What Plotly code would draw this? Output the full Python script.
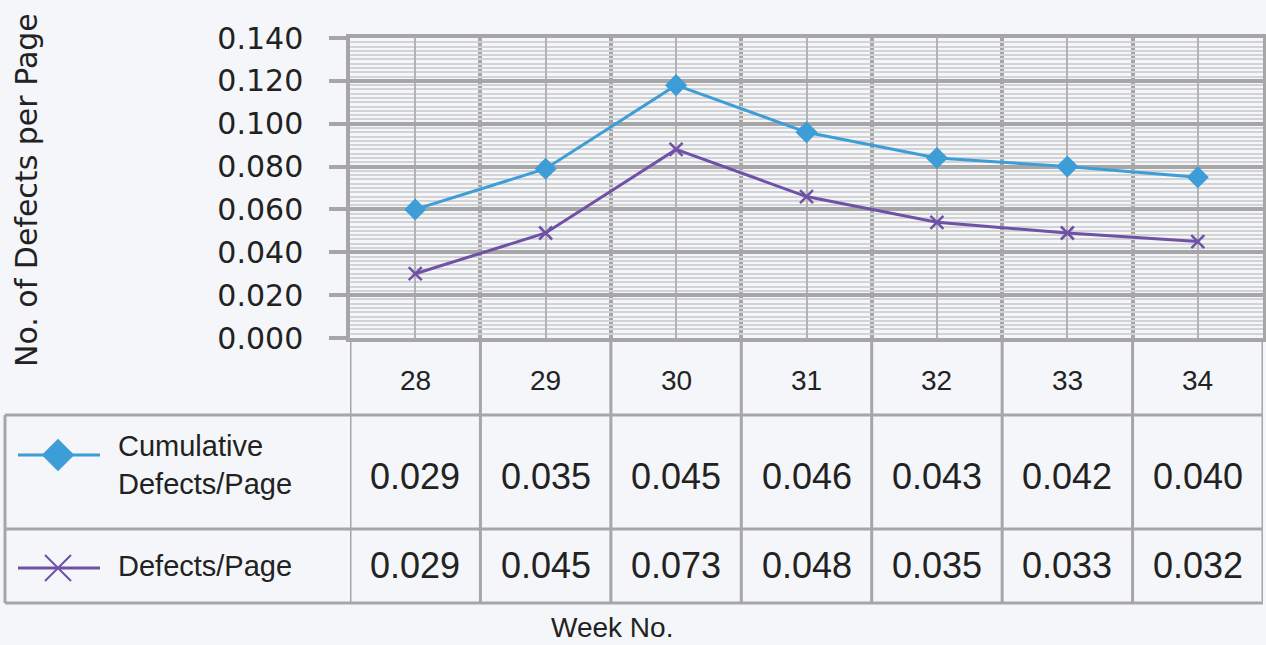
import plotly.graph_objects as go

# ---- data -------------------------------------------------------------
weeks = ["28", "29", "30", "31", "32", "33", "34"]

# plotted series
cumulative_plot = [0.060, 0.079, 0.118, 0.096, 0.084, 0.080, 0.075]
defects_plot = [0.030, 0.049, 0.088, 0.066, 0.054, 0.049, 0.045]

# figures printed in the data table under the chart
cumulative_table = [0.029, 0.035, 0.045, 0.046, 0.043, 0.042, 0.040]
defects_table = [0.029, 0.045, 0.073, 0.048, 0.035, 0.033, 0.032]

series_names = ["Cumulative<br>Defects/Page", "Defects/Page"]
y_ticks = [0.0, 0.02, 0.04, 0.06, 0.08, 0.10, 0.12, 0.14]

# ---- styling ------------------------------------------------------------
W, H = 1266, 645
BG = "#f4f6f9"
GRID = "#a6a6a6"
MINOR = "#d2d3d5"
BLUE = "#3d9dd6"
PURPLE = "#6f51a6"
TEXT = "#222222"
ARIAL = "Liberation Sans, Arial, sans-serif"
WIDE = "DejaVu Sans, sans-serif"


def px(x):
    return x / W


def py(y):
    return 1 - y / H


# plot area in pixels
PL, PR, PT, PB = 350, 1263, 38, 338
# table rows in pixels
ROW1_TOP, ROW2_TOP, TABLE_BOTTOM, TABLE_LEFT = 415, 529, 603, 5

xs = list(range(len(weeks)))

fig = go.Figure()

fig.add_trace(go.Scatter(
    x=xs, y=cumulative_plot, mode="lines+markers",
    line=dict(color=BLUE, width=3),
    marker=dict(symbol="diamond", size=17, color=BLUE, opacity=1),
    showlegend=False, cliponaxis=False,
))
fig.add_trace(go.Scatter(
    x=xs, y=defects_plot, mode="lines+markers",
    line=dict(color=PURPLE, width=3),
    marker=dict(symbol="x-thin", size=13, opacity=1,
                line=dict(color=PURPLE, width=2.5)),
    showlegend=False, cliponaxis=False,
))

# legend keys inside the table's first column (pixel-space overlay axes)
legend_rows = [
    (BLUE, "diamond", 25, (ROW1_TOP + ROW2_TOP) / 2 - 17),
    (PURPLE, "x-thin", 26, (ROW2_TOP + TABLE_BOTTOM) / 2 + 2),
]
for color, sym, size, yrow in legend_rows:
    fig.add_trace(go.Scatter(
        x=[18, 100], y=[yrow, yrow], mode="lines",
        xaxis="x2", yaxis="y2",
        line=dict(color=color, width=3),
        showlegend=False, cliponaxis=False, hoverinfo="skip",
    ))
    fig.add_trace(go.Scatter(
        x=[58], y=[yrow], mode="markers",
        xaxis="x2", yaxis="y2",
        marker=dict(symbol=sym, size=size, color=color, opacity=1,
                    line=dict(color=color, width=2 if sym == "x-thin" else 0)),
        showlegend=False, cliponaxis=False, hoverinfo="skip",
    ))

shapes = []
n = len(weeks)
# vertical table rules continuing the category boundaries
for i in range(n + 1):
    shapes.append(dict(type="line", xref="x", yref="paper",
                       x0=i - 0.5, x1=i - 0.5, y0=py(PB), y1=py(TABLE_BOTTOM),
                       line=dict(color=GRID, width=3), layer="above"))
# left border of the series-name column
shapes.append(dict(type="line", xref="paper", yref="paper",
                   x0=px(TABLE_LEFT), x1=px(TABLE_LEFT),
                   y0=py(ROW1_TOP), y1=py(TABLE_BOTTOM),
                   line=dict(color=GRID, width=3)))
# horizontal table rules
for yy in (ROW1_TOP, ROW2_TOP, TABLE_BOTTOM):
    shapes.append(dict(type="line", xref="paper", yref="paper",
                       x0=px(TABLE_LEFT), x1=px(PR),
                       y0=py(yy), y1=py(yy),
                       line=dict(color=GRID, width=3)))

annotations = []
# week labels in header row
for i, w in enumerate(weeks):
    annotations.append(dict(x=i, y=py(380), xref="x", yref="paper", text=w,
                            showarrow=False, xanchor="center", yanchor="middle",
                            font=dict(family=ARIAL, size=28, color=TEXT)))
# table values
for vals, yc in ((cumulative_table, 476), (defects_table, 565)):
    for i, v in enumerate(vals):
        annotations.append(dict(x=i, y=py(yc), xref="x", yref="paper",
                                text=f"{v:.3f}", showarrow=False,
                                xanchor="center", yanchor="middle",
                                font=dict(family=ARIAL, size=36, color=TEXT)))
# series names
for name, yc in zip(series_names, (465, 566)):
    annotations.append(dict(x=px(116), y=py(yc), xref="paper", yref="paper",
                            text=name, showarrow=False, align="left",
                            xanchor="left", yanchor="middle",
                            font=dict(family=ARIAL, size=29, color=TEXT)))
# axis titles
annotations.append(dict(x=px(612), y=py(645), xref="paper", yref="paper",
                        text="Week No.", showarrow=False,
                        xanchor="center", yanchor="bottom",
                        font=dict(family=ARIAL, size=28, color=TEXT)))
annotations.append(dict(x=px(26), y=py(190), xref="paper", yref="paper",
                        text="No. of Defects per Page", showarrow=False,
                        textangle=-90, xanchor="center", yanchor="middle",
                        font=dict(family=WIDE, size=30, color=TEXT)))

fig.update_layout(
    width=W, height=H,
    margin=dict(l=0, r=0, t=0, b=0),
    paper_bgcolor=BG, plot_bgcolor="rgba(0,0,0,0)",
    shapes=shapes, annotations=annotations,
    xaxis=dict(
        domain=[px(PL), px(PR)], range=[-0.5, n - 0.5],
        tickvals=xs, showticklabels=False, ticks="",
        showgrid=True, gridcolor="#b3b3b3", gridwidth=2,
        minor=dict(tickvals=[i - 0.5 for i in range(n + 1)], showgrid=True,
                   gridcolor=GRID, gridwidth=3.5, ticks=""),
        showline=True, linecolor=GRID, linewidth=3.5, mirror=True,
        zeroline=False, fixedrange=True,
    ),
    yaxis=dict(
        domain=[py(PB), py(PT)], range=[0, 0.14],
        tickvals=y_ticks, tickformat=".3f",
        ticks="outside", ticklen=17, tickwidth=3.5, tickcolor=GRID,
        ticklabelstandoff=20,
        tickfont=dict(family=WIDE, size=30, color=TEXT),
        showgrid=True, gridcolor=GRID, gridwidth=3.5,
        minor=dict(dtick=0.002, showgrid=True, gridcolor=MINOR, gridwidth=2),
        showline=True, linecolor=GRID, linewidth=3.5, mirror=True,
        zeroline=False, automargin=False, fixedrange=True,
    ),
    xaxis2=dict(domain=[0, 1], range=[0, W], visible=False, anchor="y2",
                fixedrange=True),
    yaxis2=dict(domain=[0, 1], range=[H, 0], visible=False, anchor="x2",
                fixedrange=True),
)

fig.write_html("out.html", config={"displayModeBar": False})
